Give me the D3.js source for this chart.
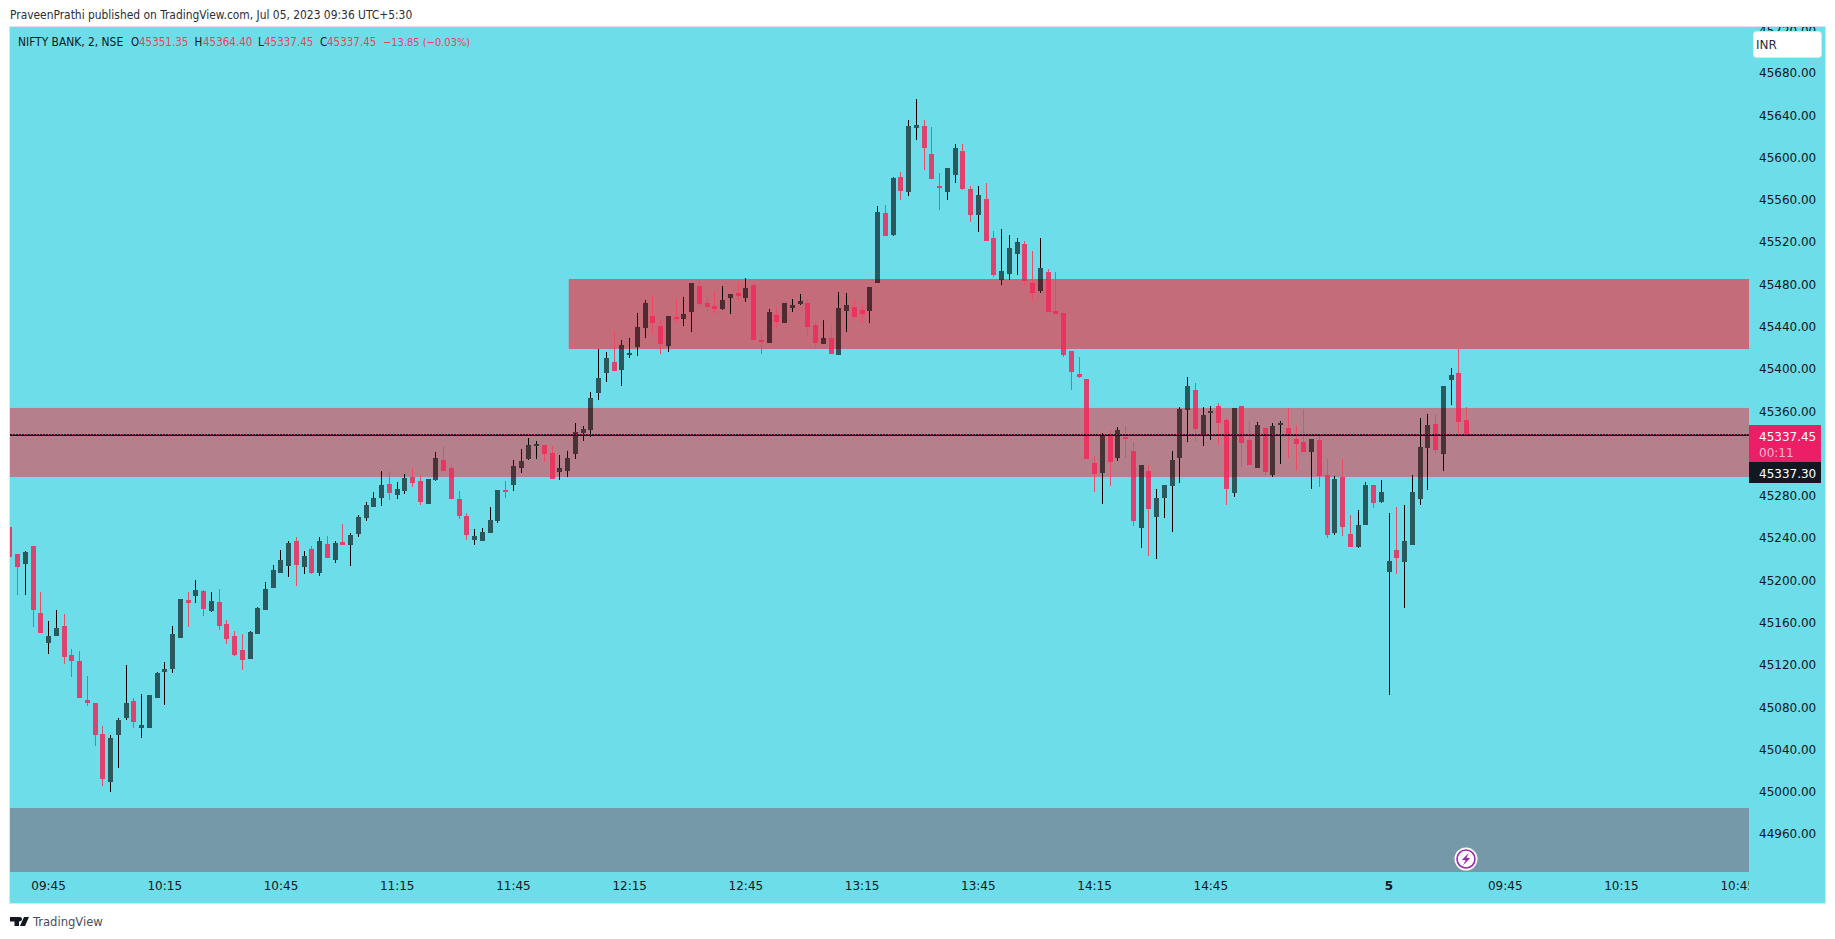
<!DOCTYPE html>
<html><head><meta charset="utf-8">
<script src="https://cdn.jsdelivr.net/npm/d3@7/dist/d3.min.js"></script>
<style>
html,body{margin:0;padding:0;background:#fff;overflow:hidden}
svg{display:block}
text{font-family:"DejaVu Sans",sans-serif}
.cond{font-family:"DejaVu Sans Condensed","DejaVu Sans",sans-serif;font-stretch:condensed}
</style></head><body>
<svg id="c" width="1835" height="939"></svg>
<script>
const opens=[45250.5,45224.9,45215.4,45232.5,45169.1,45140.7,45147.3,45156.8,45129.4,45123.7,
45086.8,45084,45054.6,45009.2,45053.7,45069.7,45085.9,45060.3,45060.3,45088.6,
45113.3,45116.1,45145.5,45181.4,45185.2,45190,45171,45179.5,45158.7,45147.3,
45134.1,45125.6,45149.3,45171.9,45192.7,45207,45213.5,45237.3,45212.6,45229.7,
45207,45234.4,45219.2,45236.3,45233.4,45243.8,45259,45269.4,45277.9,45291.1,
45280.7,45284.6,45297.8,45294,45272.2,45294.9,45313.8,45306.3,45276.9,45261,
45238.2,45237.3,45244.8,45256.2,45285.5,45290.2,45306.3,45314.8,45327.1,45328,
45320.4,45302.5,45303.5,45319.5,45339.4,45342.2,45377.3,45396.2,45406.6,45399,
45414.1,45420.8,45438.8,45450.1,45440.7,45421.7,45449.2,45447.3,45453.9,45478.4,
45462.4,45459.5,45456.7,45467.1,45471.9,45467.1,45479.5,45427.4,45424.6,45451.1,
45443.5,45457.6,45461.4,45462.4,45441.6,45423.6,45429.3,45413.2,45454.9,45458.6,
45455.8,45454.9,45481.3,45547.6,45526.7,45581.6,45567.4,45628,45629.9,45603.4,
45573.1,45567.4,45583.5,45606.3,45570.3,45545.7,45560.8,45523.9,45484.2,45489.8,
45508.8,45518.2,45481.3,45473.8,45491.7,45454.9,45453,45417,45395.2,45390.5,
45311,45301.6,45338.4,45315.8,45335.6,45322.4,45249.5,45303.5,45260,45277.9,
45289.3,45315.8,45361.2,45380.1,45338.4,45358.3,45365,45351.7,45282.7,45365,
45332.8,45306.3,45344.1,45299.7,45347.9,45344.1,45333.7,45330.9,45321.4,45332.8,
45299.7,45244.8,45297.8,45243.8,45231.5,45252.4,45290.2,45274.1,45207.9,45228.7,
45217.3,45233.4,45276.9,45325.2,45347.9,45319.5,45389.5,45396.2,45351.35];
const highs=[45250.5,45224.9,45227.8,45232.5,45189,45161.6,45171.9,45168.1,45135,45133.2,
45109.5,45084,45062.2,45053.7,45069.8,45119.9,45088.6,45092.4,45091.5,45113.3,
45122.7,45156.8,45182.4,45189,45200.3,45190.9,45189,45191.8,45162.5,45152,
45149.3,45152,45174.8,45198.4,45214.5,45228.7,45237.3,45241,45227.8,45232.5,
45241,45241.9,45237.3,45253.3,45244.8,45261.8,45274.1,45283.6,45303.5,45303.5,
45293,45300.6,45306.3,45299.7,45295.9,45321.4,45327.1,45309.1,45284.6,45263.7,
45248.5,45249.5,45269.4,45285.5,45294,45313.8,45324.3,45334.7,45331.8,45328,
45327.1,45318.6,45322.4,45348.9,45346,45378.2,45418.9,45416,45436,45427.4,
45429.3,45453,45465.2,45469,45446.3,45450.1,45466.2,45468.1,45481.3,45484.2,
45469,45473.8,45478.4,45470.9,45482.3,45486.1,45482.3,45433.1,45456.7,45458.6,
45462.4,45466.2,45470.9,45466.2,45444.4,45446.3,45441.6,45472.8,45471.9,45465.2,
45461.4,45477.5,45554.2,45555.2,45581.6,45586.3,45635.6,45655.4,45635.6,45629,
45585.4,45590.1,45612.8,45612.8,45573.1,45573.1,45575.9,45530.6,45532.4,45526.7,
45523.9,45521.1,45511.6,45523.9,45494.6,45491.7,45453,45417,45411.3,45390.5,
45317.7,45339.4,45342.2,45345.1,45346,45330.9,45309.1,45309.1,45286.4,45290.2,
45322.4,45364,45392.4,45386.7,45364,45365,45367.8,45353.6,45363.1,45365,
45350.8,45349.8,45344.1,45348.9,45350.8,45363.1,45347,45362.1,45333.7,45336.6,
45314.8,45298.7,45314.8,45261.8,45266.5,45293,45290.2,45294.9,45263.7,45269.4,
45271.3,45299.7,45353.6,45357.4,45357.4,45383.8,45400.9,45418.9,45364.4];
const lows=[45222.1,45186.2,45186.2,45155.9,45150.2,45130.3,45147.3,45120.8,45108.6,45088.6,
45081.1,45043.2,45005.4,44999.7,45022.4,45067.9,45060.3,45050.8,45060.3,45088.6,
45082.1,45112.4,45145.5,45155.9,45178.6,45166.2,45170,45153,45139.7,45128.4,
45115.2,45125.6,45149.3,45171.9,45192.7,45207,45202.7,45194.8,45206,45206,
45204.1,45221.1,45216.4,45233.4,45213.5,45241,45256.2,45269.4,45270.3,45276,
45276.9,45281.7,45288.3,45271.3,45272.2,45294,45303.5,45276.9,45258,45238.2,
45233.4,45237.3,45244.8,45254.3,45277.9,45284.6,45301.6,45313.8,45314.8,45311.9,
45295.9,45294.9,45297.8,45314.8,45331.8,45335.6,45370.6,45387.6,45398.1,45383.8,
45410.4,45412.2,45429.3,45433.1,45414.1,45416,45443.5,45440.7,45435,45457.6,
45454.9,45452,45455.8,45452,45465.2,45463.3,45427.4,45414.1,45424.6,45438.8,
45443.5,45453.9,45460.5,45431.2,45419.8,45423.6,45414.1,45413.2,45435,45447.3,
45443.5,45443.5,45481.3,45525.8,45525.8,45559.9,45563.7,45616.6,45588.2,45579.7,
45550.4,45559.9,45575.9,45569.3,45539.1,45529.6,45521.1,45487,45479.5,45484.2,
45488.9,45479.5,45465.2,45471.9,45453.9,45452,45411.3,45380.1,45391.4,45314.8,
45283.6,45272.2,45289.3,45312.9,45315.8,45251.4,45230.6,45223,45220.2,45259,
45245.7,45292.1,45330.9,45330.9,45327.1,45332.8,45328,45271.3,45278.8,45307.2,
45309.1,45306.3,45299.7,45297.8,45310,45315.8,45303.5,45321.4,45286.4,45288.3,
45240.1,45242.9,45241.9,45231.5,45230.6,45252.4,45268.4,45273.2,45091.5,45206,
45173.8,45233.4,45271.3,45285.5,45320.4,45303.5,45365.9,45335.6,45337.45];
const closes=[45222.1,45212.6,45226.8,45171.9,45150.2,45147.3,45154.9,45127.5,45123.7,45088.6,
45084,45053.7,45012,45050.8,45067.9,45084,45066,45063.2,45091.5,45112.4,
45116.1,45149.3,45182.4,45178.6,45190.9,45172.9,45180.5,45156.8,45144.5,45129.4,
45124.6,45151.1,45173.8,45191.8,45209.8,45219.2,45235.4,45214.5,45223,45207,
45237.3,45221.1,45235.4,45233.4,45242.9,45260,45271.3,45277.9,45290.2,45282.7,
45286.4,45296.8,45292.1,45274.1,45295.9,45315.8,45303.5,45276.9,45261,45242.9,
45241.9,45245.7,45257.1,45285.5,45283.6,45308.2,45312.9,45328,45329,45319.5,
45295.9,45306.3,45315.8,45340.4,45343.2,45372.5,45391.4,45410.4,45398.1,45422.7,
45415.1,45439.7,45462.4,45443.5,45423.6,45450.1,45447.3,45452,45481.3,45461.4,
45458.6,45456.7,45465.2,45470.9,45469,45476.6,45427.4,45426.4,45453.9,45444.4,
45462.4,45460.5,45464.3,45439.7,45424.6,45429.3,45414.1,45457.6,45460.5,45449.2,
45452,45477.5,45548.5,45525.8,45580.7,45568.4,45629.9,45630.8,45609.1,45579.7,
45571.2,45590.1,45609.1,45570.3,45545.7,45564.6,45521.1,45488.9,45492.7,45514.5,
45520.1,45483.2,45471.9,45495.5,45453.9,45452,45413.2,45397.1,45392.4,45314.8,
45300.6,45336.6,45311.9,45342.2,45333.7,45256.2,45309.1,45267.4,45277.9,45290.2,
45313.8,45362.1,45383.8,45343.2,45356.4,45360.2,45348.9,45286.4,45363.1,45329.9,
45309.1,45347,45302.5,45346,45348.9,45338.4,45329,45321.4,45333.7,45298.7,
45242.9,45295.9,45250.5,45231.5,45252.4,45290.2,45273.2,45283.6,45218.3,45221.1,
45237.3,45283.6,45326.2,45347,45323.3,45383.8,45394.3,45349.8,45337.45];

const priceTicks=[45720,45680,45640,45600,45560,45520,45480,45440,45400,45360,45280,45240,45200,45160,45120,45080,45040,45000,44960];
const timeTickBars=[5,20,35,50,65,80,95,110,125,140,155,178,193,208,223];
const timeTickLabels=["09:45","10:15","10:45","11:15","11:45","12:15","12:45","13:15","13:45","14:15","14:45","5","09:45","10:15","10:45"];
const zoneNames=["upper","middle","lower"];
const zoneFrom=[45485.1,45363.1,44984.6];
const zoneTo=[45418.9,45297.8,44920];
const zoneFirstBar=[72.2,-1.2,-1.2];
const lastPrice=45337.45, bidPrice=45337.30;

const svg=d3.select("#c");
const L=10,R=1749,T=27,B=872,FR=1825,FB=903;
const cyan="#6cdde9";
const x=d3.scaleLinear().domain([0,188]).range([9.3,1466]);
const y=d3.scaleLinear().domain([45680,44960]).range([73,834]);

svg.append("rect").attr("x",L-.5).attr("y",T-.5).attr("width",FR-L+1).attr("height",FB-T+1).attr("fill",cyan).attr("stroke","#e0e3eb");
const defs=svg.append("defs");
defs.append("clipPath").attr("id","pane").append("rect").attr("x",L).attr("y",T).attr("width",R-L).attr("height",B-T);
defs.append("clipPath").attr("id","timeClip").append("rect").attr("x",L).attr("y",B).attr("width",R-L).attr("height",FB-B);
defs.append("clipPath").attr("id","priceClip").append("rect").attr("x",R).attr("y",T).attr("width",FR-R).attr("height",B-T);

const pane=svg.append("g").attr("clip-path","url(#pane)");
const zoneFill=["#c56c7a","#b5808b","#7599a9"];
pane.selectAll("rect.zone").data(zoneNames).join("rect").attr("class","zone")
 .attr("x",(d,i)=>x(zoneFirstBar[i])).attr("width",(d,i)=>R-x(zoneFirstBar[i]))
 .attr("y",(d,i)=>y(zoneFrom[i])).attr("height",(d,i)=>y(zoneTo[i])-y(zoneFrom[i]))
 .attr("fill",(d,i)=>zoneFill[i]);

const bars=d3.range(opens.length);
const isUp=i=>closes[i]>=opens[i];
const gc=pane.append("g").attr("shape-rendering","crispEdges");
const cx=i=>Math.round(x(i));
const wick=(sel,a,b)=>sel.attr("x",i=>cx(i)).attr("width",1).attr("y",a).attr("height",i=>Math.max(0,b(i)-a(i))).attr("fill",i=>isUp(i)?"#000":"#ef4a63");
const bodyTop=i=>Math.round(y(Math.max(opens[i],closes[i]))), bodyBot=i=>Math.max(bodyTop(i)+2,Math.round(y(Math.min(opens[i],closes[i]))));
wick(gc.selectAll("rect.hi").data(bars).join("rect").attr("class","hi"),i=>Math.round(y(highs[i])),bodyTop);
wick(gc.selectAll("rect.lo").data(bars).join("rect").attr("class","lo"),bodyBot,i=>Math.round(y(lows[i])));
gc.selectAll("rect.body").data(bars).join("rect").attr("class","body")
 .attr("x",i=>cx(i)-2).attr("width",5).attr("y",bodyTop).attr("height",i=>bodyBot(i)-bodyTop(i))
 .attr("fill",i=>isUp(i)?"#000":"#f02a5a").attr("fill-opacity",i=>isUp(i)?0.6:0.86);

// last price line: dark row with a dotted row above it
const py=Math.round(y(lastPrice));
const priceLines=pane.append("g").attr("shape-rendering","crispEdges");
priceLines.append("line").attr("x1",L).attr("x2",R).attr("y1",py+.5).attr("y2",py+.5).attr("stroke","#14141c");
priceLines.append("line").attr("x1",L).attr("x2",R).attr("y1",py-.5).attr("y2",py-.5).attr("stroke","#14141c").attr("stroke-opacity",.85).attr("stroke-dasharray","2 1");
priceLines.append("line").attr("x1",L+2).attr("x2",R).attr("y1",py-.5).attr("y2",py-.5).attr("stroke","#e91e63").attr("stroke-opacity",.8).attr("stroke-dasharray","1 2");

// bolt marker
const bolt=svg.append("g").attr("transform",`translate(${x(188)},859)`);
bolt.append("circle").attr("r",11.5).attr("fill","#fff");
bolt.append("circle").attr("r",9).attr("fill","#fff").attr("stroke","#9c27b0").attr("stroke-width",1.6);
bolt.append("path").attr("d","M2.8-6.2-4.2 1H-.4L-2.8 6.2 4.2-1H.4Z").attr("fill","#9c27b0");

// axes
const ya=d3.axisRight(y).tickValues(priceTicks).tickSize(0).tickPadding(0).tickFormat(d3.format(".2f"));
const gy=svg.append("g").attr("clip-path","url(#priceClip)").append("g").attr("transform",`translate(1759,0)`).call(ya);
gy.select(".domain").remove();
gy.selectAll("text").attr("font-size",12).attr("fill","#131722").attr("font-family","DejaVu Sans");

const xa=d3.axisBottom(x).tickValues(timeTickBars).tickSize(0).tickPadding(0).tickFormat((d,i)=>timeTickLabels[i]);
const gx=svg.append("g").attr("clip-path","url(#timeClip)").append("g").attr("transform",`translate(0,${B+9})`).call(xa);
gx.select(".domain").remove();
gx.selectAll("text").attr("font-size",12).attr("fill","#131722").attr("font-family","DejaVu Sans")
 .attr("font-weight",(d,i)=>timeTickLabels[i]==="5"?"bold":"normal");

// price labels
svg.append("rect").attr("x",R).attr("y",425).attr("width",72).attr("height",37).attr("fill","#ec1f66");
svg.append("text").attr("x",1759).attr("y",440.5).attr("font-size",12).attr("fill","#fff").text(d3.format(".2f")(lastPrice));
svg.append("text").attr("x",1759).attr("y",456.5).attr("font-size",12).attr("fill","#fbb4ce").text("00:11");
svg.append("rect").attr("x",R).attr("y",462).attr("width",72).attr("height",21).attr("fill","#131722");
svg.append("text").attr("x",1759).attr("y",477.5).attr("font-size",12).attr("fill","#fff").text(d3.format(".2f")(bidPrice));

// INR box
svg.append("rect").attr("x",1753.5).attr("y",31.5).attr("width",68).attr("height",26).attr("rx",3).attr("fill","#fff").attr("stroke","#dfe3ec");
svg.append("text").attr("x",1756).attr("y",48.5).attr("font-size",12).attr("fill","#2a2e39").text("INR");

// header
svg.append("text").attr("class","cond").attr("x",10).attr("y",18.5).attr("font-size",11.9).attr("fill","#2a2e39")
 .text("PraveenPrathi published on TradingView.com, Jul 05, 2023 09:36 UTC+5:30");

// legend
const dk="#131722", rd="#ef3f5c";
const legend=[["NIFTY BANK, 2, NSE",18,dk,11.9],["O",131,dk,11.5],["45351.35",139,rd,11.5],["H",194.6,dk,11.5],["45364.40",203,rd,11.5],["L",258,dk,11.5],["45337.45",264,rd,11.5],["C",320,dk,11.5],["45337.45",327,rd,11.5],["\u221213.85 (\u22120.03%)",383,rd,11]];
svg.selectAll("text.lg").data(legend).join("text").attr("class","lg cond").attr("x",d=>d[1]).attr("y",46).attr("font-size",d=>d[3]).attr("fill",d=>d[2]).text(d=>d[0]);

// footer
svg.append("path").attr("d","M10 917H19V926H14.5V921.5H10ZM19.8 917A2.2 2.2 0 1 1 19.79 917ZM24 917H29L25 926H20Z").attr("fill","#131722");
svg.append("text").attr("class","cond").attr("x",33).attr("y",926).attr("font-size",12.9).attr("fill","#4a4e59").text("TradingView");
</script></body></html>
